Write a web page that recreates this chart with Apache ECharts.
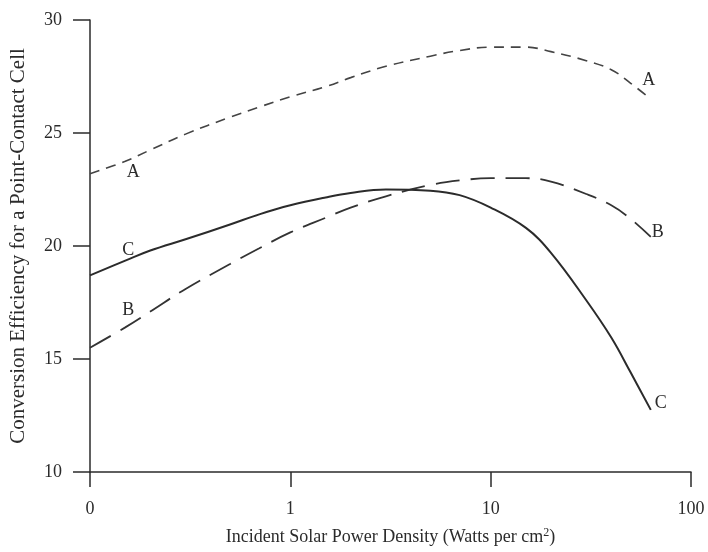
<!DOCTYPE html>
<html>
<head>
<meta charset="utf-8">
<script src="https://cdn.jsdelivr.net/npm/echarts@6/dist/echarts.min.js"></script>
<style>
  html, body { margin: 0; padding: 0; background: #fff; }
  #main { width: 708px; height: 552px; }
</style>
</head>
<body>
<div id="main"></div>
<script>
// power density (W/cm2), log scale
var powerDensity = [0.1, 0.15, 0.2, 0.3, 0.5, 0.7, 1, 1.5, 2, 3, 5, 7, 10, 15, 20, 30, 40, 50, 63];
var curveA = [23.2, 23.75, 24.25, 24.95, 25.7, 26.15, 26.6, 27.05, 27.45, 27.95, 28.4, 28.65, 28.8, 28.8, 28.6, 28.2, 27.8, 27.2, 26.5];
var curveB = [15.5, 16.4, 17.1, 18.1, 19.2, 19.9, 20.6, 21.25, 21.7, 22.2, 22.7, 22.9, 23.0, 23.0, 22.85, 22.3, 21.8, 21.2, 20.4];
var curveC = [18.7, 19.35, 19.8, 20.3, 20.95, 21.4, 21.8, 22.15, 22.35, 22.5, 22.45, 22.25, 21.7, 20.8, 19.7, 17.6, 15.95, 14.4, 12.75];
var xTickLabels = { 0.1: "0", 1: "1", 10: "10", 100: "100" };

var serif = "Liberation Serif";
var ink = "#2b2b2b";

// turn a series into [x, y] pairs, with a letter on the start point and the end point
function build(values, name, startOffset, endOffset) {
  return values.map(function (v, i) {
    var item = { value: [powerDensity[i], v] };
    if (i === 1 || i === values.length - 1) {
      item.label = {
        show: true,
        formatter: name,
        position: "inside",
        offset: i === 1 ? startOffset : endOffset,
        fontFamily: serif,
        fontSize: 18,
        color: ink
      };
    }
    return item;
  });
}

var myChart = echarts.init(document.getElementById("main"));
var option = {
  animation: false,
  grid: { left: 90, right: 17, top: 20, bottom: 80, containLabel: false, outerBoundsMode: "none" },
  xAxis: {
    type: "log",
    logBase: 10,
    min: 0.1,
    max: 100,
    name: "Incident Solar Power Density (Watts per cm{sup|2})",
    nameLocation: "middle",
    nameGap: 55,
    nameTextStyle: {
      fontFamily: serif, fontSize: 18, color: ink,
      rich: { sup: { fontFamily: serif, fontSize: 12, color: ink, verticalAlign: "top", padding: [0, 0, 9, 0] } }
    },
    axisLine: { lineStyle: { color: ink, width: 1.5 } },
    axisTick: { show: true, length: 15, lineStyle: { color: ink, width: 1.5 } },
    minorTick: { show: false },
    splitLine: { show: false },
    axisLabel: {
      margin: 28,
      fontFamily: serif, fontSize: 18, color: ink,
      formatter: function (v) {
        var key = Math.round(Math.log10(v));
        return xTickLabels[Math.pow(10, key)] || "";
      }
    }
  },
  yAxis: {
    type: "value",
    min: 10,
    max: 30,
    interval: 5,
    name: "Conversion Efficiency for a Point-Contact Cell",
    nameLocation: "middle",
    nameGap: 61,
    nameTextStyle: { fontFamily: serif, fontSize: 21, color: ink },
    axisLine: { show: true, lineStyle: { color: ink, width: 1.5 } },
    axisTick: { show: true, length: 17, lineStyle: { color: ink, width: 1.5 } },
    splitLine: { show: false },
    axisLabel: { margin: 28, fontFamily: serif, fontSize: 18, color: ink }
  },
  series: [
    {
      name: "A",
      type: "line",
      smooth: 0.4,
      symbol: "circle",
      symbolSize: 0,
      showAllSymbol: true,
      data: build(curveA, "A", [8, 11], [-2, -19]),
      lineStyle: { color: "#444", width: 1.6, type: [10, 7] }
    },
    {
      name: "B",
      type: "line",
      smooth: 0.4,
      symbol: "circle",
      symbolSize: 0,
      showAllSymbol: true,
      data: build(curveB, "B", [3, -17], [7, -5]),
      lineStyle: { color: "#333", width: 1.8, type: [24, 11] }
    },
    {
      name: "C",
      type: "line",
      smooth: 0.4,
      symbol: "circle",
      symbolSize: 0,
      showAllSymbol: true,
      data: build(curveC, "C", [3, -10], [10, -7]),
      lineStyle: { color: "#2b2b2b", width: 2 }
    }
  ]
};
option && myChart.setOption(option);
</script>
</body>
</html>
